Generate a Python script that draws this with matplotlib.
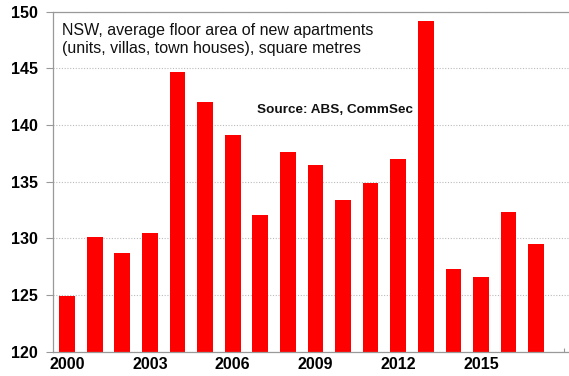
import matplotlib
matplotlib.use("Agg")
import matplotlib.pyplot as plt
import numpy as np

years = list(range(2000, 2018))
values = [124.9, 130.1, 128.7, 130.5, 144.7, 142.0, 139.15, 132.1, 137.65, 136.5,
          133.4, 134.85, 137.0, 149.2, 127.3, 126.6, 132.3, 129.5]
tick_years = [2000, 2003, 2006, 2009, 2012, 2015]
y_ticks = [120, 125, 130, 135, 140, 145, 150]

plt.rcParams['font.family'] = ['Liberation Sans', 'DejaVu Sans']

fig = plt.figure(figsize=(5.69, 3.76), dpi=100)
ax = fig.add_axes([0.0937, 0.0646, 0.9063, 0.969 - 0.0646])

x = np.arange(len(years))
ax.bar(x, values, width=0.57, bottom=0, color='#FF0000', zorder=2)

ax.set_ylim(120, 150)
ax.set_xlim(-0.5, 18.19)
ax.set_yticks(y_ticks)
ax.set_yticklabels([str(v) for v in y_ticks], fontsize=11.5, fontweight='bold')
ax.set_xticks([years.index(y) for y in tick_years])
ax.set_xticklabels([str(y) for y in tick_years], fontsize=11.5, fontweight='bold')
ax.set_xticks(np.arange(0, 19), minor=True)

ax.tick_params(axis='y', direction='out', length=5, color='#999999', width=0.8, pad=6)
ax.tick_params(axis='x', which='both', direction='in', length=3, color='#999999', width=0.8, pad=4)

ax.set_axisbelow(True)
ax.yaxis.grid(True, color='#bbbbbb', linestyle=(0, (1, 1.5)), linewidth=0.8)
for s in ['left', 'bottom', 'top']:
    ax.spines[s].set_color('#999999')
    ax.spines[s].set_linewidth(0.9)
ax.spines['right'].set_visible(False)

ax.text(0.016, 0.968, "NSW, average floor area of new apartments\n(units, villas, town houses), square metres",
        transform=ax.transAxes, ha='left', va='top', fontsize=11.5, linespacing=1.3, color='#111111')
ax.text(0.395, 0.71, "Source: ABS, CommSec", transform=ax.transAxes, ha='left', va='center',
        fontsize=9.7, fontweight='bold', color='#111111')

fig.savefig("out.png", dpi=100)
